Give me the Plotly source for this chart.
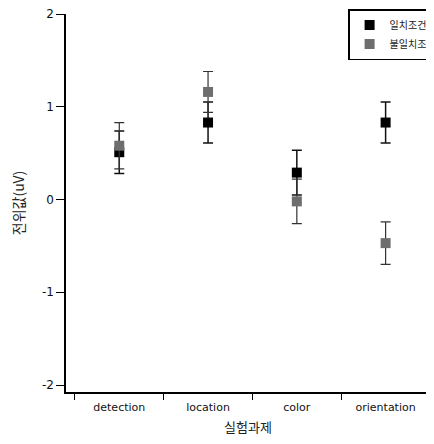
import plotly.graph_objects as go

categories = ["detection", "location", "color", "orientation"]
congruent_mean = [0.51, 0.83, 0.29, 0.83]
congruent_err = [0.23, 0.22, 0.24, 0.22]
incongruent_mean = [0.58, 1.16, -0.02, -0.47]
incongruent_err = [0.25, 0.22, 0.24, 0.23]
series_names = ["일치조건", "불일치조건"]
y_ticks = [-2, -1, 0, 1, 2]
y_tick_labels = ["-2", "-1", "0", "1", "2"]

fig = go.Figure()
fig.add_trace(go.Scatter(
    x=categories, y=congruent_mean, mode="markers", name=series_names[0],
    marker=dict(symbol="square", size=10, color="#000000"),
    error_y=dict(type="data", array=congruent_err, color="#111111", thickness=1.5, width=5),
))
fig.add_trace(go.Scatter(
    x=categories, y=incongruent_mean, mode="markers", name=series_names[1],
    marker=dict(symbol="square", size=10, color="#6e6e6e"),
    error_y=dict(type="data", array=incongruent_err, color="#333333", thickness=1.2, width=5),
))

# page body has an 8px default margin; figure is sized/offset to compensate
fig.update_layout(
    width=426, height=436,
    margin=dict(l=58, r=4, t=6, b=52, autoexpand=False),
    paper_bgcolor="white", plot_bgcolor="white",
    font=dict(family="DejaVu Sans, Arial, sans-serif", color="#111111"),
    showlegend=True,
    legend=dict(
        x=0.775, y=1.013, xanchor="left", yanchor="top",
        bordercolor="#000000", borderwidth=1.5, bgcolor="white",
        font=dict(family="Noto Sans CJK KR", size=10, color="#222222"),
        tracegroupgap=0, itemwidth=30,
    ),
    xaxis=dict(
        type="category", categoryorder="array", categoryarray=categories,
        range=[-0.6, 3.5], tickson="boundaries", ticks="outside", ticklen=6,
        tickcolor="#000000", tickwidth=1, showgrid=False, zeroline=False,
        showline=True, linecolor="#000000", linewidth=1.5,
        ticklabelstandoff=4,
        tickfont=dict(family="DejaVu Sans, Arial, sans-serif", size=11, color="#111111"),
        title=dict(text="실험과제", font=dict(family="Noto Sans CJK KR", size=13, color="#222222"), standoff=10),
    ),
    yaxis=dict(
        range=[-2.075, 2.0], tickvals=y_ticks, ticktext=y_tick_labels,
        ticks="outside", ticklen=8, ticklabeloverflow="allow",
        tickcolor="#000000", tickwidth=1, showgrid=False, zeroline=False,
        showline=True, linecolor="#000000", linewidth=1.5,
        tickfont=dict(family="DejaVu Sans, Arial, sans-serif", size=12, color="#111111"),
        title=dict(text="전위값(uV)", font=dict(family="Noto Sans CJK KR", size=14, color="#222222"), standoff=14),
    ),
)

fig.write_html("out.html")
